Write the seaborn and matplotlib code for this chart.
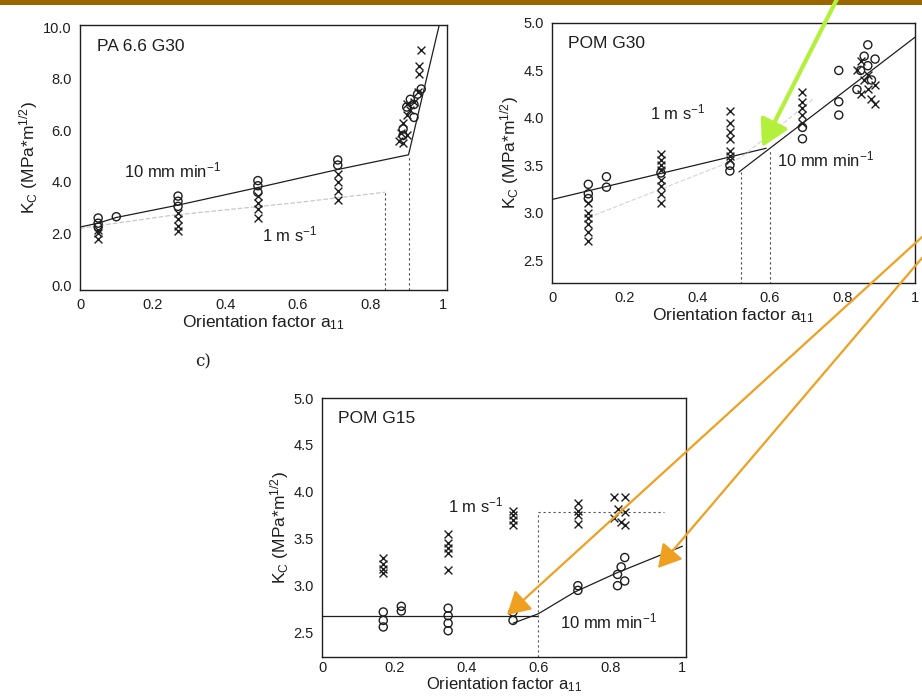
import numpy as np
import pandas as pd
import matplotlib
matplotlib.use("Agg")
import matplotlib.pyplot as plt
from matplotlib.patches import Rectangle, FancyArrowPatch
import seaborn as sns

sns.set_theme(style="white")
plt.rcParams['font.family'] = ['Liberation Sans', 'DejaVu Sans']
plt.rcParams['mathtext.fontset'] = 'custom'
plt.rcParams['mathtext.rm'] = 'Liberation Sans'
plt.rcParams['mathtext.it'] = 'Liberation Sans'

INK = '#1e1e1e'

# ---------------- Panel a: PA 6.6 G30 ----------------
pa_slow_x = [0.05, 0.05, 0.05, 0.10, 0.27, 0.27, 0.27, 0.49, 0.49, 0.49, 0.71, 0.71,
             0.89, 0.89, 0.90, 0.91, 0.92, 0.93, 0.94, 0.92]
pa_slow_y = [2.6, 2.4, 2.25, 2.65, 3.45, 3.25, 3.05, 4.05, 3.85, 3.6, 4.85, 4.65,
             5.8, 6.05, 6.9, 7.2, 7.0, 7.4, 7.6, 6.5]
pa_fast_x = [0.05, 0.05, 0.05, 0.27, 0.27, 0.27, 0.27, 0.49, 0.49, 0.49, 0.49, 0.71, 0.71, 0.71, 0.71,
             0.88, 0.885, 0.89, 0.90, 0.91, 0.92, 0.93, 0.935, 0.935, 0.94, 0.89, 0.90, 0.90]
pa_fast_y = [2.15, 2.0, 1.8, 2.8, 2.55, 2.3, 2.1, 3.45, 3.2, 2.95, 2.6, 4.3, 4.0, 3.65, 3.3,
             5.6, 5.9, 6.3, 7.0, 6.8, 7.1, 7.5, 8.2, 8.5, 9.1, 5.5, 5.8, 6.6]
pa_line_x = [0.0, 0.05, 0.10, 0.27, 0.49, 0.71, 0.905, 0.99]
pa_line_y = [2.25, 2.4, 2.62, 3.1, 3.78, 4.48, 5.05, 10.1]
pa_fast_line_x = [0.0, 0.25, 0.6, 0.84]
pa_fast_line_y = [2.2, 2.7, 3.2, 3.6]
pa_vlines = [(0.84, 3.6), (0.905, 5.05)]

# ---------------- Panel b: POM G30 ----------------
g30_slow_x = [0.10, 0.10, 0.10, 0.15, 0.15, 0.30, 0.49, 0.49, 0.69, 0.69,
              0.79, 0.79, 0.79, 0.87, 0.86, 0.85, 0.88, 0.84, 0.87, 0.89]
g30_slow_y = [3.3, 3.2, 3.15, 3.38, 3.27, 3.42, 3.5, 3.44, 3.9, 3.78,
              4.5, 4.17, 4.03, 4.77, 4.65, 4.5, 4.4, 4.3, 4.55, 4.62]
g30_fast_x = [0.10, 0.10, 0.10, 0.10, 0.10, 0.10,
              0.30, 0.30, 0.30, 0.30, 0.30, 0.30, 0.30, 0.30,
              0.49, 0.49, 0.49, 0.49, 0.49, 0.49, 0.49,
              0.69, 0.69, 0.69, 0.69, 0.69,
              0.84, 0.85, 0.86, 0.87, 0.88, 0.89, 0.85, 0.87, 0.89]
g30_fast_y = [3.1, 3.0, 2.95, 2.88, 2.8, 2.7,
              3.62, 3.56, 3.5, 3.45, 3.35, 3.28, 3.2, 3.1,
              4.07, 3.95, 3.85, 3.78, 3.65, 3.6, 3.56,
              4.27, 4.17, 4.1, 4.03, 3.95,
              4.5, 4.6, 4.4, 4.3, 4.2, 4.15, 4.25, 4.45, 4.35]
g30_line1_x = [0.0, 0.59]
g30_line1_y = [3.14, 3.68]
g30_line2_x = [0.515, 1.0]
g30_line2_y = [3.43, 4.85]
g30_fast_line_x = [0.1, 0.52, 0.72]
g30_fast_line_y = [2.95, 3.58, 4.2]
g30_vlines = [(0.52, 3.43), (0.60, 3.67)]

# ---------------- Panel c: POM G15 ----------------
g15_slow_x = [0.17, 0.17, 0.17, 0.22, 0.22, 0.35, 0.35, 0.35, 0.35, 0.53, 0.53,
              0.71, 0.71, 0.84, 0.83, 0.82, 0.84, 0.82]
g15_slow_y = [2.72, 2.63, 2.56, 2.78, 2.73, 2.76, 2.68, 2.6, 2.52, 2.72, 2.63,
              3.0, 2.95, 3.3, 3.2, 3.12, 3.05, 3.0]
g15_fast_x = [0.17, 0.17, 0.17, 0.17, 0.35, 0.35, 0.35, 0.35, 0.35,
              0.53, 0.53, 0.53, 0.53, 0.71, 0.71, 0.71, 0.71,
              0.81, 0.84, 0.82, 0.84, 0.81, 0.83, 0.84]
g15_fast_y = [3.3, 3.23, 3.18, 3.13, 3.55, 3.45, 3.4, 3.35, 3.17,
              3.8, 3.75, 3.7, 3.65, 3.88, 3.8, 3.75, 3.66,
              3.95, 3.95, 3.82, 3.78, 3.72, 3.68, 3.65]
g15_line1_x = [0.0, 0.6]
g15_line1_y = [2.68, 2.68]
g15_line2_x = [0.53, 0.6, 0.7, 0.82, 1.0]
g15_line2_y = [2.6, 2.7, 2.93, 3.14, 3.42]
g15_dot_x = [0.6, 0.6, 0.95]
g15_dot_y = [2.24, 3.78, 3.78]

fig = plt.figure(figsize=(9.22, 6.97), dpi=100)
fig.patch.set_facecolor('white')
fig.patches.append(Rectangle((0, 1 - 5 / 697), 1, 5 / 697, transform=fig.transFigure,
                             facecolor='#996600', edgecolor='none', zorder=5))

ax1 = fig.add_axes([80 / 922, 1 - 290 / 697, 367 / 922, 265 / 697])
ax2 = fig.add_axes([552 / 922, 1 - 283 / 697, 363 / 922, 260 / 697])
ax3 = fig.add_axes([322 / 922, 1 - 657 / 697, 364 / 922, 259 / 697])


def draw(ax, sx, sy, fx, fy):
    sns.scatterplot(x=sx, y=sy, ax=ax, marker='o', s=34, facecolor='none',
                    edgecolor=INK, linewidth=1.0, zorder=3)
    sns.scatterplot(x=fx, y=fy, ax=ax, marker='x', s=32, color=INK,
                    linewidth=1.0, zorder=3)


def line(ax, x, y, **kw):
    sns.lineplot(x=x, y=y, ax=ax, estimator=None, sort=False, **kw)


def style(ax, xlim, ylim, yticks, ylabels, title, xpad=1, xtpad=6, xfs=12.5):
    ax.set_xlim(*xlim)
    ax.set_ylim(*ylim)
    ax.set_xticks([0, 0.2, 0.4, 0.6, 0.8, 1.0])
    ax.set_xticklabels(['0', '0.2', '0.4', '0.6', '0.8', '1'])
    ax.set_yticks(yticks)
    ax.set_yticklabels(ylabels)
    ax.tick_params(direction='in', length=3, width=0.8, labelsize=10.5,
                   colors=INK, pad=6)
    ax.tick_params(axis='x', pad=xtpad)
    for sp in ax.spines.values():
        sp.set_color(INK)
        sp.set_linewidth(1.0)
    ax.set_xlabel('Orientation factor a$_{\\mathregular{11}}$', fontsize=xfs,
                  color=INK, labelpad=xpad)
    ax.set_ylabel('K$_{\\mathregular{C}}$ (MPa*m$^{\\mathregular{1/2}}$)',
                  fontsize=12.5, color=INK, labelpad=2)
    ax.text(0.045, 0.92, title, transform=ax.transAxes, fontsize=12.5,
            color=INK, va='center', ha='left')
    ax.set_facecolor('white')


# Panel a
draw(ax1, pa_slow_x, pa_slow_y, pa_fast_x, pa_fast_y)
line(ax1, pa_line_x, pa_line_y, color=INK, linewidth=0.9)
line(ax1, pa_fast_line_x, pa_fast_line_y, color='#c8c8c8', linewidth=0.9, linestyle='--')
for vx, vy in pa_vlines:
    ax1.plot([vx, vx], [-0.2, vy], color='#444444', linewidth=0.8, linestyle=(0, (2, 2.5)))
style(ax1, (0, 1.011), (-0.19, 10.08), [0, 2, 4, 6, 8, 10],
      ['0.0', '2.0', '4.0', '6.0', '8.0', '10.0'], 'PA 6.6 G30')
ax1.text(0.12, 4.45, '10 mm min$^{\\mathregular{-1}}$', fontsize=12, color=INK, va='center')
ax1.text(0.50, 1.95, '1 m s$^{\\mathregular{-1}}$', fontsize=12, color=INK, va='center')

# Panel b
draw(ax2, g30_slow_x, g30_slow_y, g30_fast_x, g30_fast_y)
line(ax2, g30_line1_x, g30_line1_y, color=INK, linewidth=0.9)
line(ax2, g30_line2_x, g30_line2_y, color=INK, linewidth=0.9)
line(ax2, g30_fast_line_x, g30_fast_line_y, color='#d8d8d8', linewidth=0.9, linestyle='--')
for vx, vy in g30_vlines:
    ax2.plot([vx, vx], [2.2, vy], color='#444444', linewidth=0.8, linestyle=(0, (2, 2.5)))
style(ax2, (0, 1.0), (2.26, 4.97), [2.5, 3.0, 3.5, 4.0, 4.5, 5.0],
      ['2.5', '3.0', '3.5', '4.0', '4.5', '5.0'], 'POM G30')
ax2.text(0.27, 4.06, '1 m s$^{\\mathregular{-1}}$', fontsize=12, color=INK, va='center')
ax2.text(0.62, 3.56, '10 mm min$^{\\mathregular{-1}}$', fontsize=12, color=INK, va='center')

# Panel c
draw(ax3, g15_slow_x, g15_slow_y, g15_fast_x, g15_fast_y)
line(ax3, g15_line1_x, g15_line1_y, color=INK, linewidth=0.9)
line(ax3, g15_line2_x, g15_line2_y, color=INK, linewidth=0.9)
ax3.plot(g15_dot_x, g15_dot_y, color='#555555', linewidth=0.8, linestyle=(0, (2, 2.5)))
style(ax3, (0, 1.01), (2.24, 4.95), [2.5, 3.0, 3.5, 4.0, 4.5, 5.0],
      ['2.5', '3.0', '3.5', '4.0', '4.5', '5.0'], 'POM G15', xpad=0, xtpad=3, xfs=12)
ax3.text(0.35, 3.86, '1 m s$^{\\mathregular{-1}}$', fontsize=12, color=INK, va='center')
ax3.text(0.66, 2.62, '10 mm min$^{\\mathregular{-1}}$', fontsize=12, color=INK, va='center')

fig.text(195 / 922, 1 - 362 / 697, 'c)', fontsize=12, family='DejaVu Serif',
         color=INK, va='center', ha='left')


def fig_arrow(p0, p1, color, lw, hw, hl):
    a = FancyArrowPatch((p0[0] / 922, 1 - p0[1] / 697), (p1[0] / 922, 1 - p1[1] / 697),
                        transform=fig.transFigure, color=color, linewidth=lw,
                        arrowstyle=f'-|>,head_width={hw},head_length={hl}',
                        mutation_scale=10, shrinkA=0, shrinkB=0, zorder=10)
    fig.patches.append(a)


fig_arrow((838, -3), (762, 147), '#b3f03c', 3.0, 0.9, 1.6)
fig_arrow((922, 237), (507, 615), '#f0a020', 1.6, 0.8, 1.4)
fig_arrow((922, 258), (658, 568), '#f0a020', 1.6, 0.8, 1.4)

fig.savefig('out.png', dpi=100)
